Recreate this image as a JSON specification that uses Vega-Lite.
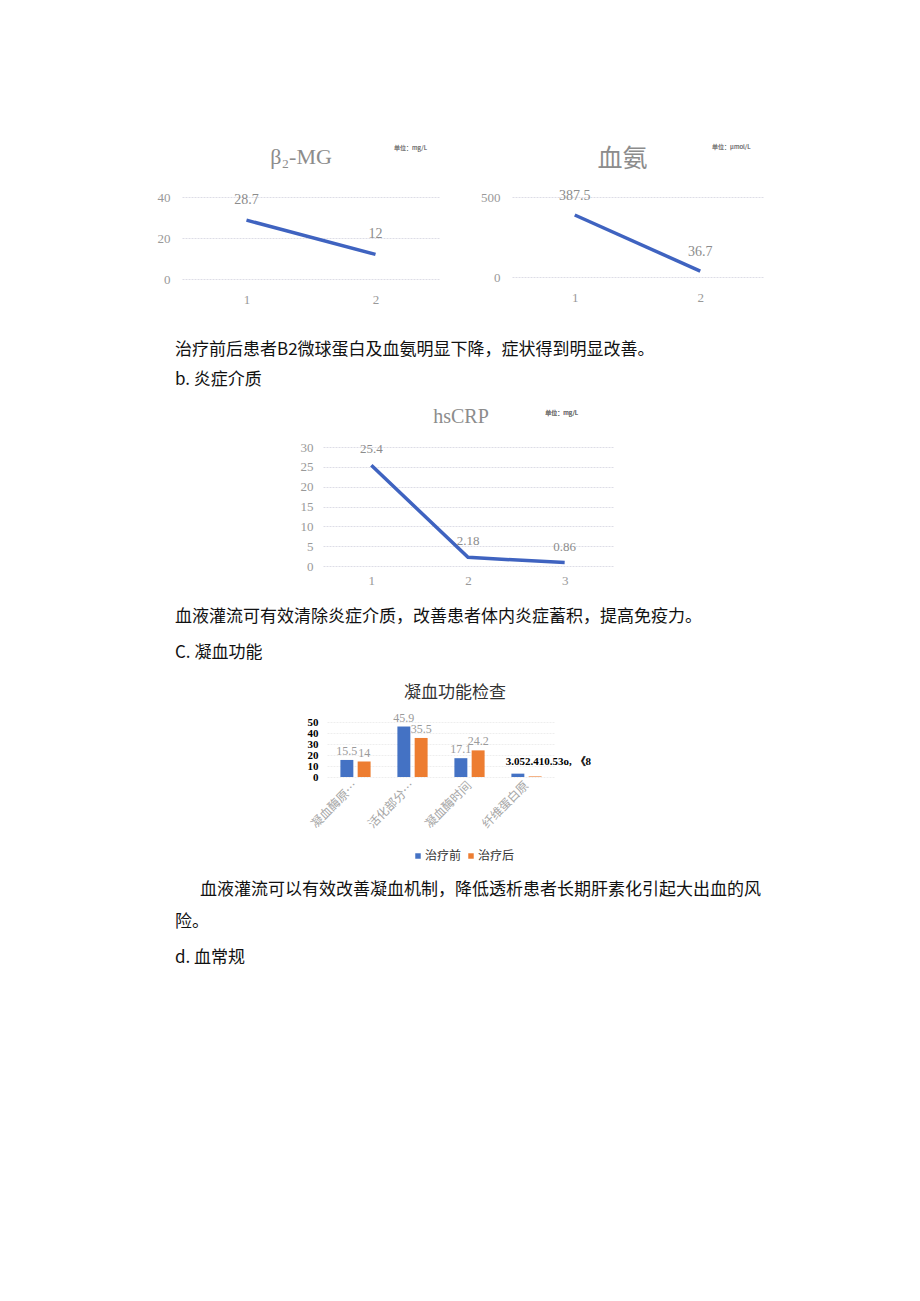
{
  "$schema": "https://vega.github.io/schema/vega-lite/v6.json",
  "background": "white",
  "padding": {"left": 142, "top": 144, "right": 20, "bottom": 20},
  "config": {
    "view": {"stroke": null},
    "font": "Noto Sans CJK SC",
    "axis": {"domain": false, "ticks": false, "labelFont": "Liberation Serif", "labelColor": "#999999", "labelFontSize": 13, "gridColor": "#dddde6", "gridDash": [2, 1]},
    "title": {"fontWeight": "normal"}
  },
  "columns": 1,
  "align": "none",
  "spacing": 35,
  "resolve": {"scale": {"color": "independent"}},
  "concat": [
    {
      "spacing": 32,
      "hconcat": [
        {
          "width": 258, "height": 82,
          "title": {"text": "β₂-MG", "anchor": "middle", "frame": "group", "font": "Liberation Serif", "fontSize": 22, "color": "#8c8c8c", "offset": -24, "dx": -10},
          "data": {"values": [{"visit": 1, "value": 28.7}, {"visit": 2, "value": 12}]},
          "encoding": {
            "x": {"field": "visit", "type": "ordinal", "scale": {"type": "point", "padding": 0.5}, "axis": {"title": null, "labelAngle": 0, "labelPadding": 14, "grid": false}},
            "y": {"field": "value", "type": "quantitative", "scale": {"domain": [0, 40]}, "axis": {"title": null, "values": [0, 20, 40], "labelPadding": 12, "minExtent": 40, "maxExtent": 40}}
          },
          "layer": [
            {"mark": {"type": "line", "color": "#3f63c0", "strokeWidth": 3.5}},
            {"mark": {"type": "text", "dy": -20, "font": "Liberation Serif", "fontSize": 14, "color": "#8c8c8c"}, "encoding": {"text": {"field": "value"}}},
            {"mark": {"type": "text", "dx": 35, "fontSize": 6, "color": "#777777"}, "encoding": {"x": {"datum": 2}, "y": {"datum": 64}, "text": {"value": "单位：mg/L"}}}
          ]
        },
        {
          "width": 251, "height": 80,
          "title": {"text": "血氨", "anchor": "middle", "frame": "group", "fontSize": 25, "color": "#8c8c8c", "offset": -28, "dx": -15},
          "data": {"values": [{"visit": 1, "value": 387.5}, {"visit": 2, "value": 36.7}]},
          "encoding": {
            "x": {"field": "visit", "type": "ordinal", "scale": {"type": "point", "padding": 0.5}, "axis": {"title": null, "labelAngle": 0, "labelPadding": 14, "grid": false}},
            "y": {"field": "value", "type": "quantitative", "scale": {"domain": [0, 500]}, "axis": {"title": null, "values": [0, 500], "labelPadding": 12, "minExtent": 40, "maxExtent": 40}}
          },
          "layer": [
            {"mark": {"type": "line", "color": "#3f63c0", "strokeWidth": 3.5}},
            {"mark": {"type": "text", "dy": -19, "font": "Liberation Serif", "fontSize": 14, "color": "#8c8c8c"}, "encoding": {"text": {"field": "value"}}},
            {"mark": {"type": "text", "dx": 31, "fontSize": 6, "color": "#777777"}, "encoding": {"x": {"datum": 2}, "y": {"datum": 812}, "text": {"value": "单位：μmol/L"}}}
          ]
        }
      ]
    },
    {
      "columns": 1,
      "align": "none",
      "spacing": 20,
      "resolve": {"scale": {"color": "independent"}},
      "concat": [
        {
          "title": {"text": ["治疗前后患者B2微球蛋白及血氨明显下降，症状得到明显改善。", "b. 炎症介质"], "anchor": "start", "dx": -7, "fontSize": 17, "color": "#111111", "lineHeight": 30, "offset": 18},
          "spacing": 0,
          "hconcat": [
            {"width": 1, "height": 1, "data": {"values": []}, "mark": {"type": "point", "opacity": 0}},
            {
              "width": 290, "height": 119,
              "title": {"text": "hsCRP", "anchor": "middle", "frame": "group", "font": "Liberation Serif", "fontSize": 20, "color": "#8c8c8c", "offset": -17, "dx": -7},
              "data": {"values": [{"visit": 1, "value": 25.4}, {"visit": 2, "value": 2.18}, {"visit": 3, "value": 0.86}]},
              "encoding": {
                "x": {"field": "visit", "type": "ordinal", "scale": {"type": "point", "padding": 0.5}, "axis": {"title": null, "labelAngle": 0, "labelPadding": 8, "grid": false}},
                "y": {"field": "value", "type": "quantitative", "scale": {"domain": [0, 30]}, "axis": {"title": null, "values": [0, 5, 10, 15, 20, 25, 30], "labelPadding": 10, "minExtent": 140, "maxExtent": 140}}
              },
              "layer": [
                {"mark": {"type": "line", "color": "#3f63c0", "strokeWidth": 3.5}},
                {"mark": {"type": "text", "dy": -16, "font": "Liberation Serif", "fontSize": 13, "color": "#8c8c8c"}, "encoding": {"text": {"field": "value"}}},
                {"mark": {"type": "text", "dx": -3, "fontSize": 6, "color": "#777777"}, "encoding": {"x": {"datum": 3}, "y": {"datum": 38.5}, "text": {"value": "单位：mg/L"}}}
              ]
            }
          ]
        },
        {
          "title": {"text": ["血液灌流可有效清除炎症介质，改善患者体内炎症蓄积，提高免疫力。", "C. 凝血功能"], "anchor": "start", "dx": 0, "fontSize": 17, "color": "#111111", "lineHeight": 36, "offset": 22},
          "resolve": {"scale": {"color": "independent"}},
          "vconcat": [
            {
              "title": {"text": ["险。", "d. 血常规"], "orient": "bottom", "anchor": "start", "dx": -7, "fontSize": 17, "color": "#111111", "lineHeight": 36, "offset": 16},
              "resolve": {"scale": {"color": "independent"}},
              "vconcat": [
                {
                  "title": {"text": "血液灌流可以有效改善凝血机制，降低透析患者长期肝素化引起大出血的风", "orient": "bottom", "anchor": "start", "dx": 18, "fontSize": 17, "color": "#111111", "offset": 20},
                  "resolve": {"scale": {"color": "independent"}},
                  "spacing": 0,
                  "hconcat": [
                    {"width": 1, "height": 1, "data": {"values": []}, "mark": {"type": "point", "opacity": 0}},
                    {
                      "width": 228, "height": 55,
                      "title": {"text": "凝血功能检查", "anchor": "middle", "frame": "group", "fontSize": 17, "color": "#333333", "offset": 10, "dx": 14},
                      "data": {"values": [
                        {"item": "凝血酶原时间", "group": "治疗前", "value": 15.5, "label": "15.5"},
                        {"item": "凝血酶原时间", "group": "治疗后", "value": 14, "label": "14"},
                        {"item": "活化部分凝血活酶时间", "group": "治疗前", "value": 45.9, "label": "45.9"},
                        {"item": "活化部分凝血活酶时间", "group": "治疗后", "value": 35.5, "label": "35.5"},
                        {"item": "凝血酶时间", "group": "治疗前", "value": 17.1, "label": "17.1"},
                        {"item": "凝血酶时间", "group": "治疗后", "value": 24.2, "label": "24.2"},
                        {"item": "纤维蛋白原", "group": "治疗前", "value": 3.05, "label": "3.052.410.53o, 《8"},
                        {"item": "纤维蛋白原", "group": "治疗后", "value": 0.53, "label": ""}
                      ]},
                      "encoding": {
                        "x": {"field": "item", "type": "nominal", "sort": null, "scale": {"paddingInner": 0.47, "paddingOuter": 0.235}, "axis": {"title": null, "labelAngle": -45, "labelAlign": "right", "labelBaseline": "middle", "labelLimit": 61, "labelFont": "Noto Sans CJK SC", "labelFontSize": 12, "labelColor": "#a6a6a6", "labelPadding": 6, "grid": false}},
                        "xOffset": {"field": "group", "sort": ["治疗前", "治疗后"], "scale": {"paddingInner": 0.25}},
                        "y": {"field": "value", "type": "quantitative", "scale": {"domain": [0, 50]}, "axis": {"title": null, "values": [0, 10, 20, 30, 40, 50], "labelOverlap": false, "labelFontWeight": "bold", "labelColor": "#000000", "labelFontSize": 11, "labelPadding": 9, "minExtent": 144, "maxExtent": 144, "gridColor": "#eeeeee"}},
                        "color": {"field": "group", "type": "nominal", "sort": ["治疗前", "治疗后"], "scale": {"range": ["#4472C4", "#ED7D31"]}, "legend": {"orient": "none", "legendX": 85, "legendY": 128, "direction": "horizontal", "title": null, "symbolType": "square", "symbolSize": 30, "labelFontSize": 12, "labelColor": "#333333", "columnPadding": 3, "labelOffset": 1}}
                      },
                      "layer": [
                        {"mark": {"type": "bar"}},
                        {"transform": [{"filter": "datum.item != '纤维蛋白原'"}], "mark": {"type": "text", "dy": -9, "font": "Liberation Serif", "fontSize": 12}, "encoding": {"text": {"field": "label"}, "color": {"value": "#9a9a9a"}}},
                        {"transform": [{"filter": "datum.item == '纤维蛋白原'"}], "mark": {"type": "text", "align": "left", "dx": -12, "dy": -12, "font": "Liberation Serif", "fontSize": 11, "fontWeight": "bold"}, "encoding": {"text": {"field": "label"}, "color": {"value": "#000000"}}}
                      ]
                    }
                  ]
                }
              ]
            }
          ]
        }
      ]
    }
  ]
}
